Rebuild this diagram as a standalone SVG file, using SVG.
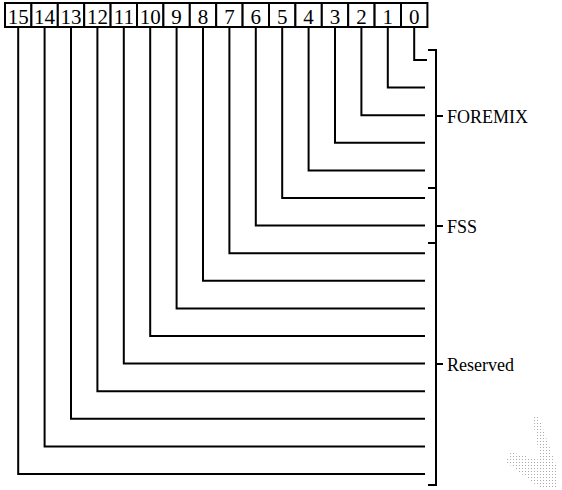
<svg xmlns="http://www.w3.org/2000/svg" width="562" height="490" viewBox="0 0 562 490">
<style>
.box{fill:#fff;stroke:#000;stroke-width:2}
.num{font-family:"Liberation Serif",serif;font-size:21px;text-anchor:middle;fill:#000}
.lbl{font-family:"Liberation Serif",serif;font-size:18px;fill:#000}
.w{fill:none;stroke:#000;stroke-width:2}
</style>
<defs>
<pattern id="dots" width="3" height="3" patternUnits="userSpaceOnUse"><rect width="1" height="1" fill="#888"/></pattern>
</defs>
<rect width="562" height="490" fill="#fff"/>
<g id="bits">
<g id="b15"><rect class="box" x="5" y="3" width="26.4" height="24"/><text class="num" x="18.2" y="24">15</text></g>
<g id="b14"><rect class="box" x="31.4" y="3" width="26.4" height="24"/><text class="num" x="44.6" y="24">14</text></g>
<g id="b13"><rect class="box" x="57.8" y="3" width="26.4" height="24"/><text class="num" x="71" y="24">13</text></g>
<g id="b12"><rect class="box" x="84.2" y="3" width="26.4" height="24"/><text class="num" x="97.4" y="24">12</text></g>
<g id="b11"><rect class="box" x="110.6" y="3" width="26.4" height="24"/><text class="num" x="123.8" y="24">11</text></g>
<g id="b10"><rect class="box" x="137" y="3" width="26.4" height="24"/><text class="num" x="150.2" y="24">10</text></g>
<g id="b9"><rect class="box" x="163.4" y="3" width="26.4" height="24"/><text class="num" x="176.6" y="24">9</text></g>
<g id="b8"><rect class="box" x="189.8" y="3" width="26.4" height="24"/><text class="num" x="203" y="24">8</text></g>
<g id="b7"><rect class="box" x="216.2" y="3" width="26.4" height="24"/><text class="num" x="229.4" y="24">7</text></g>
<g id="b6"><rect class="box" x="242.6" y="3" width="26.4" height="24"/><text class="num" x="255.8" y="24">6</text></g>
<g id="b5"><rect class="box" x="269" y="3" width="26.4" height="24"/><text class="num" x="282.2" y="24">5</text></g>
<g id="b4"><rect class="box" x="295.4" y="3" width="26.4" height="24"/><text class="num" x="308.6" y="24">4</text></g>
<g id="b3"><rect class="box" x="321.8" y="3" width="26.4" height="24"/><text class="num" x="335" y="24">3</text></g>
<g id="b2"><rect class="box" x="348.2" y="3" width="26.4" height="24"/><text class="num" x="361.4" y="24">2</text></g>
<g id="b1"><rect class="box" x="374.6" y="3" width="26.4" height="24"/><text class="num" x="387.8" y="24">1</text></g>
<g id="b0"><rect class="box" x="401" y="3" width="26.4" height="24"/><text class="num" x="414.2" y="24">0</text></g>
</g>
<g id="connectors">
<polyline class="w" points="414.2,28 414.2,60 427,60"/>
<polyline class="w" points="387.8,28 387.8,87.6 425,87.6"/>
<polyline class="w" points="361.4,28 361.4,115.2 425,115.2"/>
<polyline class="w" points="335,28 335,142.8 425,142.8"/>
<polyline class="w" points="308.6,28 308.6,170.4 425,170.4"/>
<polyline class="w" points="282.2,28 282.2,198 425,198"/>
<polyline class="w" points="255.8,28 255.8,225.6 425,225.6"/>
<polyline class="w" points="229.4,28 229.4,253.2 425,253.2"/>
<polyline class="w" points="203,28 203,280.8 425,280.8"/>
<polyline class="w" points="176.6,28 176.6,308.4 425,308.4"/>
<polyline class="w" points="150.2,28 150.2,336 425,336"/>
<polyline class="w" points="123.8,28 123.8,363.6 425,363.6"/>
<polyline class="w" points="97.4,28 97.4,391.2 425,391.2"/>
<polyline class="w" points="71,28 71,418.8 425,418.8"/>
<polyline class="w" points="44.6,28 44.6,446.4 425,446.4"/>
<polyline class="w" points="18.2,28 18.2,474 425,474"/>
</g>
<g id="bracket">
<polyline class="w" points="428,50 436,50 436,485 428,485"/>
<line class="w" x1="428" y1="188" x2="436" y2="188"/>
<line class="w" x1="428" y1="243" x2="436" y2="243"/>
<line class="w" x1="436" y1="116" x2="443" y2="116"/>
<line class="w" x1="436" y1="226" x2="443" y2="226"/>
<line class="w" x1="436" y1="364" x2="443" y2="364"/>
</g>
<g id="foremix"><text class="lbl" x="447" y="123">FOREMIX</text></g>
<g id="fss"><text class="lbl" x="447" y="233">FSS</text></g>
<g id="reserved"><text class="lbl" x="447" y="371">Reserved</text></g>
<polygon points="532,415 538,415 558,470 556,488 540,488 506,462 510,452 540,460" fill="url(#dots)" opacity="0.7"/>
</svg>
